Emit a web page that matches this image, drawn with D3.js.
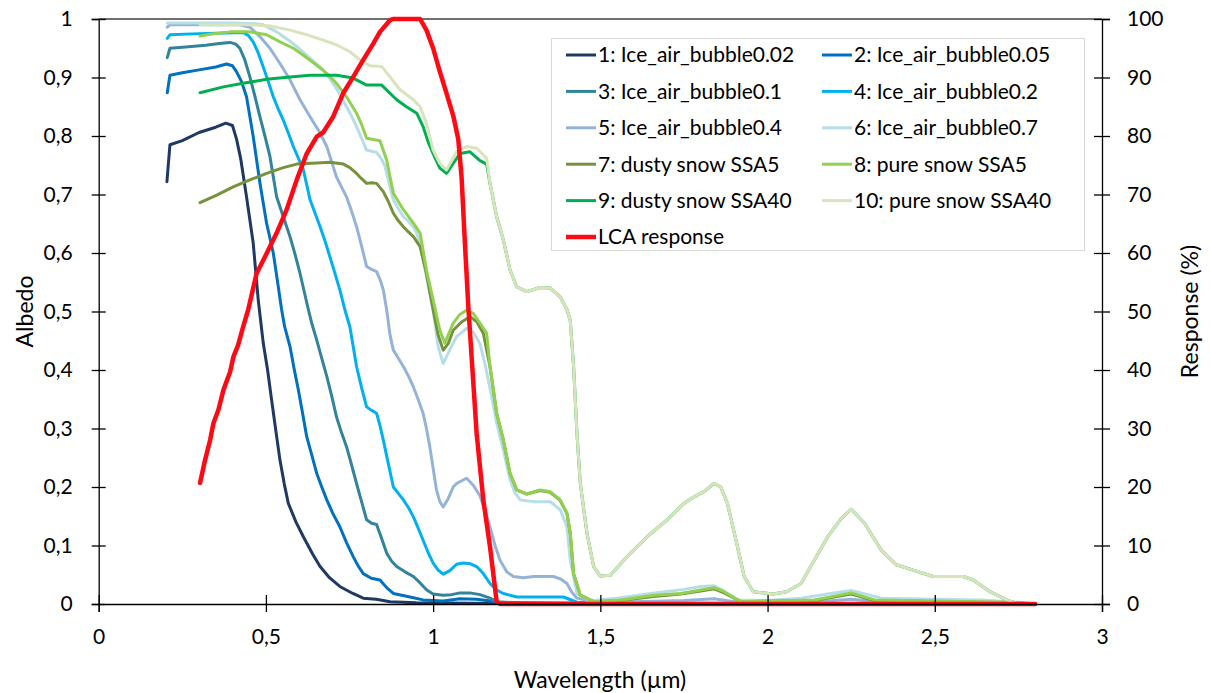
<!DOCTYPE html>
<html>
<head>
<meta charset="utf-8">
<script src="https://cdn.jsdelivr.net/npm/d3@7/dist/d3.min.js"></script>
<style>
  html, body { margin: 0; padding: 0; background: #fff; }
  svg { display: block; }
  text { font-family: Lato, "Open Sans", sans-serif; fill: #000; }
</style>
</head>
<body>
<svg id="chart" width="1211" height="693"></svg>
<script>
// Spectral albedo of ice / snow surfaces (left axis) and LCA response (right axis)
const xTicks = [0, 0.5, 1, 1.5, 2, 2.5, 3];
const yTicks = [0, 0.1, 0.2, 0.3, 0.4, 0.5, 0.6, 0.7, 0.8, 0.9, 1];
const yRightTicks = [0, 10, 20, 30, 40, 50, 60, 70, 80, 90, 100];

const seriesNames = [
  "1: Ice_air_bubble0.02", "2: Ice_air_bubble0.05",
  "3: Ice_air_bubble0.1", "4: Ice_air_bubble0.2",
  "5: Ice_air_bubble0.4", "6: Ice_air_bubble0.7",
  "7: dusty snow SSA5", "8: pure snow SSA5",
  "9: dusty snow SSA40", "10: pure snow SSA40"
];
const responseName = "LCA response";

// [wavelength (µm), albedo]
const iceBubble002 = [[0.204,0.722],[0.213,0.785],[0.25,0.792],[0.30,0.806],[0.35,0.815],[0.38,0.822],[0.40,0.818],[0.412,0.795],[0.425,0.76],[0.442,0.696],[0.462,0.617],[0.477,0.52],[0.492,0.446],[0.505,0.40],[0.517,0.349],[0.53,0.295],[0.542,0.246],[0.555,0.205],[0.567,0.172],[0.59,0.14],[0.612,0.115],[0.64,0.085],[0.662,0.064],[0.69,0.045],[0.721,0.030],[0.76,0.018],[0.791,0.010],[0.83,0.008],[0.871,0.004],[0.95,0.002],[1.2,0.001],[2.8,0]];
const iceBubble005 = [[0.205,0.874],[0.213,0.904],[0.25,0.908],[0.30,0.913],[0.35,0.918],[0.382,0.923],[0.40,0.92],[0.412,0.91],[0.427,0.893],[0.442,0.867],[0.462,0.799],[0.482,0.72],[0.502,0.651],[0.522,0.6],[0.535,0.55],[0.547,0.503],[0.556,0.474],[0.572,0.44],[0.585,0.40],[0.597,0.366],[0.61,0.325],[0.622,0.286],[0.637,0.255],[0.652,0.223],[0.667,0.20],[0.682,0.178],[0.70,0.155],[0.721,0.132],[0.741,0.105],[0.761,0.081],[0.776,0.065],[0.791,0.052],[0.815,0.044],[0.841,0.041],[0.861,0.028],[0.881,0.018],[0.931,0.012],[0.97,0.007],[1.03,0.005],[1.08,0.009],[1.13,0.008],[1.2,0.003],[1.4,0.001],[2.8,0]];
const iceBubble01 = [[0.205,0.934],[0.213,0.95],[0.26,0.952],[0.32,0.955],[0.36,0.958],[0.393,0.96],[0.41,0.957],[0.422,0.95],[0.437,0.93],[0.452,0.901],[0.467,0.868],[0.482,0.833],[0.497,0.80],[0.512,0.765],[0.532,0.696],[0.552,0.662],[0.572,0.628],[0.587,0.598],[0.602,0.565],[0.627,0.503],[0.637,0.48],[0.652,0.451],[0.667,0.42],[0.682,0.389],[0.697,0.355],[0.711,0.32],[0.726,0.293],[0.741,0.269],[0.756,0.238],[0.771,0.206],[0.786,0.175],[0.801,0.144],[0.816,0.138],[0.831,0.136],[0.846,0.112],[0.861,0.087],[0.876,0.073],[0.891,0.064],[0.916,0.055],[0.941,0.047],[0.961,0.036],[0.981,0.024],[1.0,0.017],[1.03,0.015],[1.055,0.016],[1.08,0.019],[1.11,0.019],[1.14,0.016],[1.17,0.01],[1.19,0.004],[1.25,0.002],[2.8,0]];
const iceBubble02 = [[0.205,0.967],[0.213,0.973],[0.30,0.975],[0.38,0.976],[0.432,0.977],[0.447,0.972],[0.462,0.961],[0.477,0.942],[0.492,0.918],[0.507,0.893],[0.522,0.867],[0.537,0.846],[0.552,0.827],[0.567,0.805],[0.582,0.782],[0.597,0.762],[0.612,0.742],[0.632,0.691],[0.647,0.668],[0.662,0.645],[0.677,0.62],[0.691,0.594],[0.706,0.566],[0.721,0.537],[0.736,0.503],[0.751,0.474],[0.761,0.44],[0.771,0.406],[0.786,0.37],[0.801,0.337],[0.816,0.331],[0.831,0.326],[0.841,0.305],[0.851,0.28],[0.866,0.24],[0.881,0.2],[0.896,0.189],[0.911,0.178],[0.926,0.165],[0.941,0.149],[0.955,0.13],[0.97,0.109],[0.985,0.088],[1.0,0.07],[1.015,0.058],[1.03,0.051],[1.05,0.057],[1.07,0.068],[1.09,0.07],[1.11,0.069],[1.13,0.064],[1.15,0.052],[1.17,0.035],[1.19,0.024],[1.21,0.018],[1.25,0.012],[1.39,0.012],[1.43,0.003],[1.5,0.001],[2.8,0]];
const iceBubble04 = [[0.205,0.986],[0.213,0.99],[0.30,0.99],[0.422,0.99],[0.452,0.986],[0.482,0.97],[0.512,0.95],[0.542,0.924],[0.572,0.896],[0.602,0.862],[0.632,0.833],[0.662,0.805],[0.682,0.782],[0.696,0.757],[0.711,0.73],[0.741,0.696],[0.756,0.672],[0.771,0.645],[0.786,0.612],[0.801,0.577],[0.816,0.572],[0.831,0.568],[0.841,0.555],[0.851,0.537],[0.861,0.503],[0.871,0.46],[0.881,0.434],[0.896,0.42],[0.911,0.406],[0.926,0.39],[0.941,0.371],[0.955,0.35],[0.97,0.326],[0.98,0.30],[0.99,0.269],[1.0,0.232],[1.01,0.195],[1.02,0.175],[1.03,0.166],[1.045,0.18],[1.06,0.200],[1.07,0.206],[1.10,0.215],[1.12,0.203],[1.14,0.185],[1.155,0.16],[1.17,0.132],[1.185,0.10],[1.20,0.075],[1.22,0.055],[1.24,0.047],[1.27,0.045],[1.30,0.047],[1.36,0.047],[1.38,0.043],[1.40,0.035],[1.415,0.02],[1.43,0.01],[1.47,0.005],[1.6,0.004],[1.75,0.006],[1.84,0.009],[1.9,0.004],[2.15,0.004],[2.25,0.008],[2.33,0.004],[2.7,0.002],[2.8,0]];
const iceBubble07 = [[0.205,0.993],[0.30,0.993],[0.40,0.993],[0.472,0.992],[0.492,0.99],[0.512,0.984],[0.532,0.978],[0.552,0.97],[0.572,0.962],[0.592,0.953],[0.612,0.943],[0.632,0.933],[0.652,0.923],[0.671,0.913],[0.691,0.898],[0.711,0.881],[0.726,0.866],[0.741,0.85],[0.756,0.834],[0.771,0.816],[0.786,0.796],[0.801,0.776],[0.816,0.774],[0.831,0.772],[0.846,0.76],[0.856,0.748],[0.868,0.72],[0.881,0.691],[0.896,0.676],[0.911,0.662],[0.926,0.654],[0.941,0.645],[0.951,0.633],[0.961,0.617],[0.97,0.59],[0.98,0.56],[0.99,0.53],[1.0,0.503],[1.015,0.44],[1.03,0.411],[1.05,0.435],[1.07,0.457],[1.10,0.471],[1.12,0.465],[1.14,0.445],[1.155,0.41],[1.165,0.383],[1.18,0.34],[1.19,0.309],[1.21,0.263],[1.23,0.212],[1.245,0.19],[1.26,0.178],[1.30,0.175],[1.35,0.175],[1.38,0.161],[1.40,0.132],[1.41,0.075],[1.43,0.018],[1.46,0.008],[1.48,0.006],[1.55,0.01],[1.65,0.018],[1.75,0.025],[1.80,0.03],[1.84,0.031],[1.87,0.022],[1.91,0.007],[2.0,0.006],[2.1,0.01],[2.18,0.017],[2.25,0.023],[2.30,0.016],[2.34,0.01],[2.5,0.008],[2.64,0.007],[2.75,0.003],[2.8,0]];
const dustySnowSSA5 = [[0.303,0.686],[0.353,0.699],[0.402,0.713],[0.452,0.725],[0.502,0.736],[0.552,0.746],[0.592,0.752],[0.652,0.754],[0.691,0.755],[0.732,0.752],[0.751,0.746],[0.771,0.736],[0.786,0.727],[0.801,0.719],[0.816,0.72],[0.831,0.719],[0.851,0.705],[0.866,0.688],[0.881,0.668],[0.896,0.655],[0.911,0.645],[0.926,0.636],[0.941,0.628],[0.961,0.611],[0.98,0.565],[1.0,0.503],[1.015,0.46],[1.03,0.434],[1.045,0.445],[1.06,0.468],[1.085,0.482],[1.11,0.491],[1.13,0.483],[1.15,0.463],[1.17,0.406],[1.19,0.326],[1.21,0.28],[1.23,0.223],[1.25,0.195],[1.28,0.188],[1.32,0.194],[1.35,0.191],[1.38,0.177],[1.40,0.155],[1.41,0.121],[1.42,0.052],[1.44,0.015],[1.48,0.004],[1.56,0.006],[1.66,0.013],[1.74,0.017],[1.80,0.022],[1.84,0.026],[1.87,0.019],[1.92,0.004],[2.14,0.006],[2.25,0.017],[2.32,0.006],[2.73,0.002],[2.8,0]];
const pureSnowSSA5 = [[0.303,0.971],[0.333,0.974],[0.393,0.978],[0.452,0.978],[0.502,0.973],[0.542,0.961],[0.582,0.95],[0.612,0.938],[0.652,0.921],[0.682,0.907],[0.711,0.89],[0.741,0.867],[0.771,0.839],[0.786,0.82],[0.801,0.796],[0.821,0.794],[0.841,0.792],[0.861,0.759],[0.881,0.702],[0.911,0.674],[0.941,0.651],[0.961,0.634],[0.98,0.571],[1.0,0.52],[1.02,0.468],[1.035,0.446],[1.06,0.48],[1.08,0.495],[1.10,0.502],[1.12,0.497],[1.145,0.476],[1.16,0.463],[1.17,0.406],[1.19,0.326],[1.21,0.28],[1.23,0.223],[1.25,0.195],[1.28,0.188],[1.32,0.195],[1.35,0.192],[1.38,0.178],[1.40,0.155],[1.41,0.121],[1.42,0.052],[1.44,0.015],[1.48,0.004],[1.56,0.007],[1.66,0.015],[1.74,0.018],[1.80,0.024],[1.84,0.028],[1.87,0.021],[1.92,0.004],[2.14,0.007],[2.25,0.019],[2.32,0.007],[2.73,0.003],[2.8,0]];
const dustySnowSSA40 = [[0.303,0.874],[0.373,0.884],[0.432,0.89],[0.502,0.897],[0.572,0.901],[0.632,0.904],[0.711,0.904],[0.761,0.899],[0.801,0.887],[0.846,0.887],[0.891,0.862],[0.92,0.85],[0.951,0.839],[0.97,0.816],[0.985,0.79],[1.0,0.77],[1.02,0.745],[1.04,0.736],[1.06,0.753],[1.08,0.77],[1.11,0.773],[1.14,0.758],[1.16,0.752],[1.17,0.719],[1.19,0.662],[1.21,0.622],[1.23,0.571],[1.25,0.542],[1.28,0.534],[1.32,0.541],[1.35,0.54],[1.38,0.525],[1.40,0.503],[1.41,0.485],[1.42,0.406],[1.43,0.292],[1.44,0.206],[1.46,0.121],[1.48,0.064],[1.499,0.048],[1.53,0.049],[1.58,0.081],[1.64,0.115],[1.70,0.144],[1.75,0.172],[1.78,0.183],[1.81,0.192],[1.84,0.206],[1.86,0.20],[1.88,0.172],[1.91,0.098],[1.93,0.047],[1.957,0.021],[2.017,0.017],[2.057,0.021],[2.10,0.035],[2.14,0.075],[2.18,0.115],[2.22,0.146],[2.25,0.162],[2.29,0.138],[2.34,0.092],[2.385,0.067],[2.435,0.058],[2.495,0.047],[2.585,0.047],[2.615,0.041],[2.665,0.021],[2.715,0.007],[2.74,0.002],[2.8,0]];
const pureSnowSSA40 = [[0.303,0.99],[0.40,0.99],[0.452,0.99],[0.512,0.988],[0.572,0.981],[0.622,0.973],[0.671,0.964],[0.711,0.956],[0.751,0.944],[0.781,0.93],[0.811,0.92],[0.846,0.919],[0.871,0.901],[0.901,0.879],[0.941,0.862],[0.961,0.85],[0.98,0.822],[1.0,0.776],[1.02,0.753],[1.04,0.742],[1.07,0.773],[1.10,0.782],[1.13,0.779],[1.16,0.762],[1.17,0.719],[1.19,0.662],[1.21,0.622],[1.23,0.571],[1.25,0.542],[1.28,0.534],[1.32,0.541],[1.35,0.54],[1.38,0.525],[1.40,0.503],[1.41,0.485],[1.42,0.406],[1.43,0.292],[1.44,0.206],[1.46,0.121],[1.48,0.064],[1.499,0.048],[1.53,0.049],[1.58,0.081],[1.64,0.115],[1.70,0.144],[1.75,0.172],[1.78,0.183],[1.81,0.192],[1.84,0.206],[1.86,0.20],[1.88,0.172],[1.91,0.098],[1.93,0.047],[1.957,0.021],[2.017,0.017],[2.057,0.021],[2.10,0.035],[2.14,0.075],[2.18,0.115],[2.22,0.146],[2.25,0.162],[2.29,0.138],[2.34,0.092],[2.385,0.067],[2.435,0.058],[2.495,0.047],[2.585,0.047],[2.615,0.041],[2.665,0.021],[2.715,0.007],[2.74,0.002],[2.8,0]];

// [wavelength (µm), response (%)]
const lcaResponse = [[0.303,20.7],[0.318,24.6],[0.333,28.0],[0.343,30.9],[0.358,33.2],[0.373,36.6],[0.393,39.7],[0.403,42.3],[0.417,44.3],[0.432,47.4],[0.447,50.3],[0.472,56.5],[0.502,59.9],[0.532,63.4],[0.562,67.4],[0.592,72.5],[0.622,77.0],[0.652,79.9],[0.671,80.6],[0.701,83.3],[0.731,87.3],[0.761,90.1],[0.791,93.0],[0.821,95.8],[0.841,97.8],[0.871,99.8],[0.88,100],[0.961,100],[0.98,98.1],[1.0,95],[1.02,91],[1.04,87.3],[1.06,83.5],[1.075,79.5],[1.085,73.0],[1.095,61.7],[1.105,51],[1.13,29.2],[1.15,17.8],[1.17,9.8],[1.19,0.4],[1.2,0],[2.8,0]];

const seriesData = [iceBubble002, iceBubble005, iceBubble01, iceBubble02, iceBubble04,
                    iceBubble07, dustySnowSSA5, pureSnowSSA5, dustySnowSSA40, pureSnowSSA40];
const seriesColors = ["#1f3864", "#0070c0", "#31849b", "#00b0f0", "#95b3d7",
                      "#b7dee8", "#76923c", "#92d050", "#00b050", "#d8e4bc"];
const responseColor = "#ff0a14";

const svg = d3.select("#chart");
const plotL = 98.7, plotR = 1102, plotT = 19, plotB = 604;

const x = d3.scaleLinear().domain([0, 3]).range([plotL, plotR]);
const y = d3.scaleLinear().domain([0, 1]).range([plotB, plotT]);
const yR = d3.scaleLinear().domain([0, 100]).range([plotB, plotT]);

const commaFmt = d => (+d.toFixed(1)).toString().replace(".", ",");

// plot frame: top edge
svg.append("line").attr("x1", plotL).attr("x2", plotR).attr("y1", plotT).attr("y2", plotT)
  .attr("stroke", "#404040").attr("stroke-width", 1.3);

// series lines
const line = d3.line().x(d => x(d[0])).y(d => y(d[1]));
const gLines = svg.append("g").attr("fill", "none").attr("stroke-linejoin", "round").attr("stroke-linecap", "round");
seriesData.forEach((s, i) => {
  gLines.append("path").datum(s).attr("d", line)
    .attr("stroke", seriesColors[i]).attr("stroke-width", 3);
});
const lineR = d3.line().x(d => x(d[0])).y(d => yR(d[1]));
gLines.append("path").datum(lcaResponse).attr("d", lineR)
  .attr("stroke", responseColor).attr("stroke-width", 4.5);

// axes
function styleAxis(g, crossIn, crossOut, horiz) {
  g.select(".domain").attr("stroke", "#000").attr("stroke-width", 1.3);
  g.selectAll(".tick line").attr("stroke", "#000").attr("stroke-width", 1.3);
  if (horiz) g.selectAll(".tick line").attr("y1", -crossIn).attr("y2", crossOut);
  else g.selectAll(".tick line").attr("x1", crossIn).attr("x2", -crossOut);
  g.selectAll(".tick text").style("font-family", "Lato, 'Open Sans', sans-serif").style("font-size", "21px").attr("fill", "#000");
}

const gx = svg.append("g").attr("transform", `translate(0,${plotB})`)
  .call(d3.axisBottom(x).tickValues(xTicks).tickFormat(commaFmt).tickSizeOuter(0).tickSize(8).tickPadding(17));
styleAxis(gx, 9, 8, true);

const gy = svg.append("g").attr("transform", `translate(${plotL},0)`)
  .call(d3.axisLeft(y).tickValues(yTicks).tickFormat(commaFmt).tickSizeOuter(0).tickSize(7).tickPadding(19));
styleAxis(gy, 7, 7, false);

const gyR = svg.append("g").attr("transform", `translate(${plotR},0)`)
  .call(d3.axisRight(yR).tickValues(yRightTicks).tickSizeOuter(0).tickSize(8).tickPadding(17));
gyR.select(".domain").attr("stroke", "#000").attr("stroke-width", 1.3);
gyR.selectAll(".tick line").attr("stroke", "#000").attr("stroke-width", 1.3).attr("x1", -8).attr("x2", 8);
gyR.selectAll(".tick text").style("font-size", "21px").attr("fill", "#000");

// axis titles
svg.append("text").attr("x", 600).attr("y", 688).attr("text-anchor", "middle")
  .style("font-size", "23px").text("Wavelength (µm)");
svg.append("text").attr("transform", `translate(33,${(plotT + plotB) / 2}) rotate(-90)`)
  .attr("text-anchor", "middle").style("font-size", "23px").text("Albedo");
svg.append("text").attr("transform", `translate(1198,${(plotT + plotB) / 2}) rotate(-90)`)
  .attr("text-anchor", "middle").style("font-size", "23px").text("Response (%)");

// legend
const legend = svg.append("g");
legend.append("rect").attr("x", 551.5).attr("y", 38.5).attr("width", 533).attr("height", 212)
  .attr("fill", "#fff").attr("stroke", "#d9d9d9").attr("stroke-width", 1);
const legendItems = seriesNames.map((n, i) => ({ name: n, color: seriesColors[i], w: 3 }));
legendItems.push({ name: responseName, color: responseColor, w: 4.5 });
const colX = [566, 822], rowY0 = 55, rowStep = 36.4;
legendItems.forEach((d, i) => {
  const cx = colX[i % 2], cy = rowY0 + Math.floor(i / 2) * rowStep;
  legend.append("line").attr("x1", cx).attr("x2", cx + 30).attr("y1", cy).attr("y2", cy)
    .attr("stroke", d.color).attr("stroke-width", d.w);
  legend.append("text").attr("x", cx + 32).attr("y", cy).attr("dy", "0.35em")
    .style("font-size", "21px").text(d.name);
});
</script>
</body>
</html>
